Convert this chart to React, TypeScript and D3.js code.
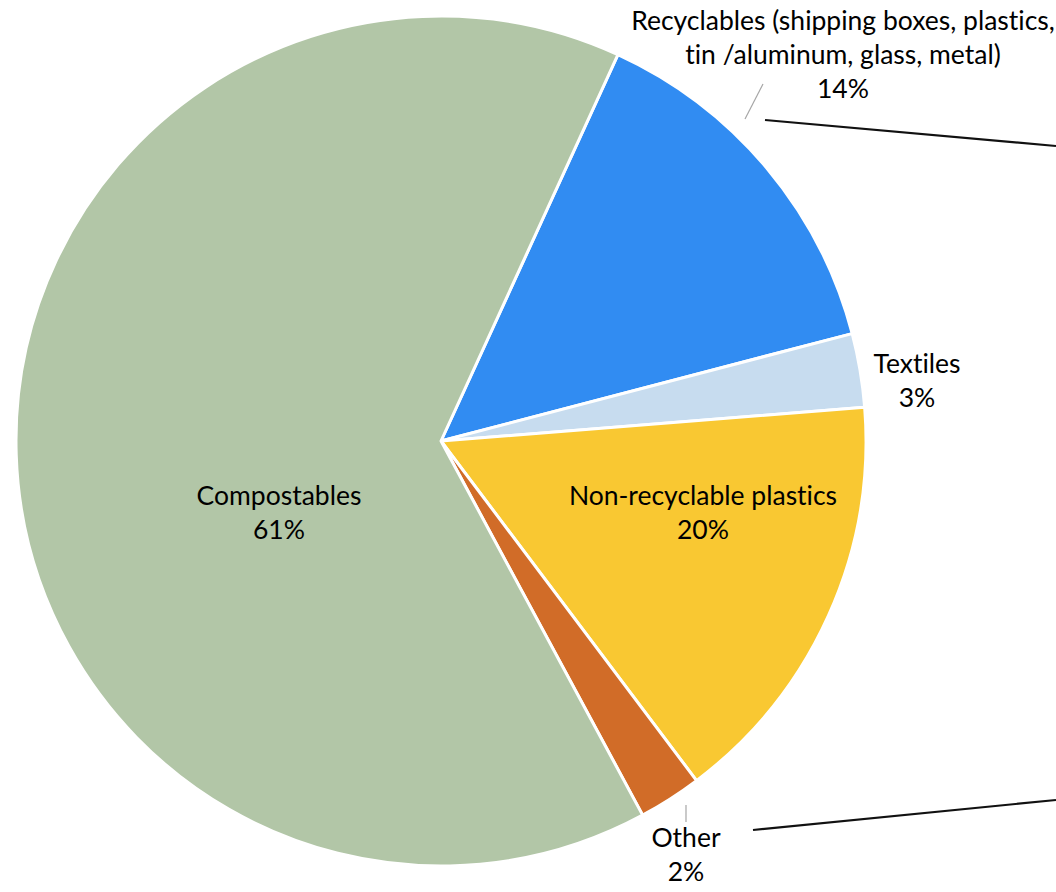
import React from "react";
import * as d3 from "d3";

// Categories in drawing order (clockwise from the recyclables slice)
const categories = ["Recyclables", "Textiles", "Non-recyclable plastics", "Other", "Compostables"];
// Arc shares as drawn in the picture (percent of the circle)
const sliceShares = [14.1, 2.8, 16.0, 2.4, 64.7];
// Percentages printed on the labels
const labelPercents = [14, 3, 20, 2, 61];
// Label text lines (without the percentage)
const labelLines = [
  ["Recyclables (shipping boxes, plastics,", "tin /aluminum, glass, metal)"],
  ["Textiles"],
  ["Non-recyclable plastics"],
  ["Other"],
  ["Compostables"],
];
const colors = ["#318cf2", "#c7dcef", "#f9c832", "#d16c28", "#b2c6a7"];

const W = 1056;
const H = 892;
const cx = 441;
const cy = 441;
const R = 425;
const startDeg = 24.6;

// label anchor (center x, first baseline y)
const labelPos = [
  { x: 843, y: 30 },
  { x: 917, y: 373 },
  { x: 703, y: 505 },
  { x: 686, y: 847 },
  { x: 279, y: 505 },
];
const lineGap = 34;

export default function App() {
  const pie = d3
    .pie<number>()
    .sort(null)
    .value((d) => d)
    .startAngle((startDeg * Math.PI) / 180)
    .endAngle((startDeg * Math.PI) / 180 + 2 * Math.PI);
  const arcs = pie(sliceShares);
  const arc = d3.arc<d3.PieArcDatum<number>>().innerRadius(0).outerRadius(R);

  return (
    <svg
      width={W}
      height={H}
      style={{ position: "absolute", left: 0, top: 0, background: "#fff", fontVariantLigatures: "none" }}
      fontFamily="Lato, 'Open Sans', sans-serif"
    >
      <g transform={`translate(${cx},${cy})`}>
        {arcs.map((a, i) => (
          <path key={categories[i]} d={arc(a) || ""} fill={colors[i]} stroke="#fff" strokeWidth={3} strokeLinejoin="round" />
        ))}
      </g>
      {/* leader lines */}
      <line x1={745} y1={119} x2={763} y2={84} stroke="#a6a6a6" strokeWidth={1.2} />
      <line x1={686} y1={805} x2={686} y2={822} stroke="#a6a6a6" strokeWidth={1.2} />
      {/* annotation lines */}
      <line x1={765} y1={120} x2={1056} y2={146} stroke="#111" strokeWidth={2.2} />
      <line x1={753} y1={830} x2={1056} y2={800} stroke="#111" strokeWidth={2.2} />
      {labelLines.map((lines, i) => (
        <text key={categories[i]} x={labelPos[i].x} y={labelPos[i].y} textAnchor="middle" fontSize={26.5} fill="#000" style={{ fontVariantLigatures: "none" }}>
          {lines.map((l, j) => (
            <tspan key={j} x={labelPos[i].x} y={labelPos[i].y + j * lineGap}>
              {l}
            </tspan>
          ))}
          <tspan x={labelPos[i].x} y={labelPos[i].y + lines.length * lineGap}>
            {labelPercents[i]}%
          </tspan>
        </text>
      ))}
    </svg>
  );
}
